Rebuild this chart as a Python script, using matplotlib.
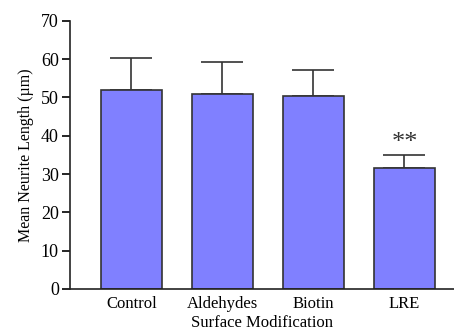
import numpy as np
import matplotlib.pyplot as plt

# data
groups = ['Control', 'Aldehydes', 'Biotin', 'LRE']
means = [52.0, 51.0, 50.4, 31.5]
errs = [8.3, 8.2, 6.8, 3.5]

plt.rcParams['font.family'] = ['Liberation Serif', 'DejaVu Serif']

fig = plt.figure(figsize=(4.54, 3.31), dpi=100)
ax = fig.add_axes([0.154, 0.127, 0.846, 0.81])

x = np.arange(len(groups))
ax.bar(x, means, width=0.67, color='#8080ff', edgecolor='#333333', linewidth=1.2, zorder=2)
ax.errorbar(x, means, yerr=[np.zeros(len(errs)), errs], fmt='none', ecolor='#333333',
            elinewidth=1.2, capsize=15, capthick=1.2, zorder=1)

# significance marker
ax.text(x[3], means[3] + errs[3] + 0.2, '**', ha='center', va='bottom', fontsize=19, color='#333333')

ax.set_xlim(-0.676, 3.544)
ax.set_ylim(0, 70)
ax.set_yticks(np.arange(0, 71, 10))
ax.set_xticks(x)
ax.set_xticklabels(groups)
ax.tick_params(axis='x', length=0, labelsize=12, pad=5)
ax.tick_params(axis='y', length=6, width=1.2, labelsize=13, pad=2)
for s in ['top', 'right']:
    ax.spines[s].set_visible(False)
for s in ['left', 'bottom']:
    ax.spines[s].set_linewidth(1.2)
    ax.spines[s].set_color('#222222')

ax.set_ylabel('Mean Neurite Length (µm)', fontsize=11.5, labelpad=5)
ax.set_xlabel('Surface Modification', fontsize=12, labelpad=2)

fig.savefig('out.png', dpi=100)
